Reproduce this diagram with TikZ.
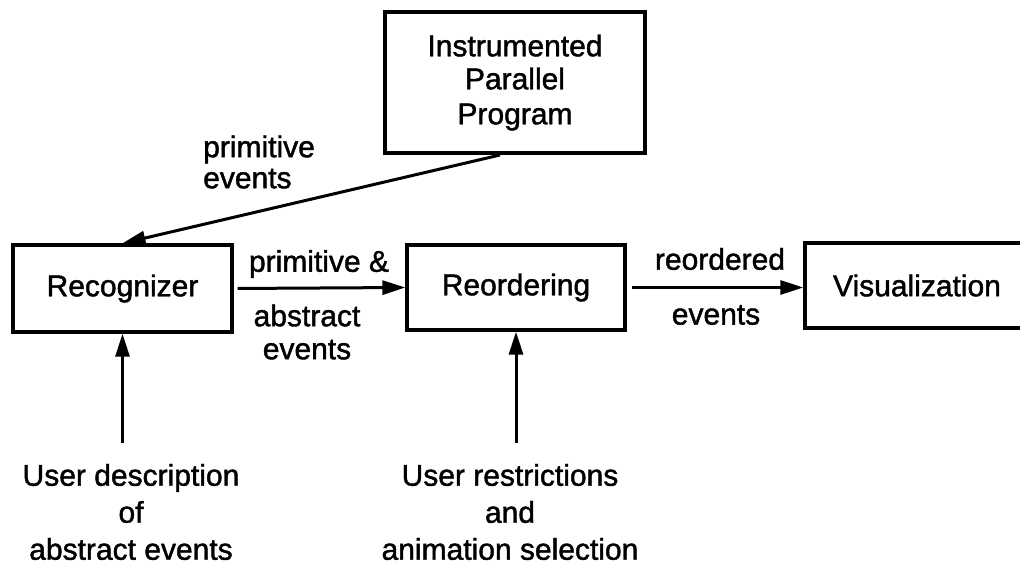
\documentclass[tikz,border=0pt]{standalone}
\usepackage{fontspec}
\setmainfont{Liberation Sans}[FakeBold=1.4]
\usetikzlibrary{arrows.meta,calc}

\tikzset{
  stage/.style={draw=black, line width=3.4pt, inner sep=0pt, align=center,
                font=\fontsize{30}{35}\selectfont},
  lbl/.style={inner sep=0pt, align=center, font=\fontsize{30}{37}\selectfont},
  flow/.style={line width=3pt, -{Triangle[length=23pt,width=14pt]}},
}

\begin{document}
\begin{tikzpicture}[x=1pt, y=-1pt]
  \useasboundingbox (0,0) rectangle (1020,567);
  \clip (0,0) rectangle (1020,567);
  \fill[white] (0,0) rectangle (1020,567);

  % processing stages
  \node[stage, minimum width=260pt, minimum height=141pt] (ipp) at (515,82.5)
    {Instrumented\\[-2pt]Parallel\\Program};
  \node[stage, minimum width=219pt, minimum height=87pt] (rec) at (122.5,288.5) {Recognizer};
  \node[stage, minimum width=218pt, minimum height=85pt] (reo) at (516,287.5) {Reordering};
  \node[stage, minimum width=224pt, minimum height=85pt] (vis) at (917,285.5) {Visualization};

  % connector labels
  \node[lbl, anchor=west, align=left] (lprim) at (203,162) {primitive\\[-6pt]events};
  \node[lbl] (lpa1) at (319,264) {primitive \&};
  \node[lbl] (lpa2) at (307,332) {abstract\\[-4pt]events};
  \node[lbl] (lro1) at (720,259) {reordered};
  \node[lbl] (lro2) at (716,315) {events};

  % user inputs
  \node[lbl] (udesc) at (131,512) {User description\\of\\abstract events};
  \node[lbl] (urest) at (510,512) {User restrictions\\and\\animation selection};

  % connector end points
  \coordinate (ippout) at (500,155);
  \coordinate (descin) at (122.5,443);
  \coordinate (restin) at (516,443);

  % connectors
  \draw[flow] (ippout) -- (rec.north);
  \draw[flow, shorten <=4pt] (rec.east) -- (reo.west);
  \draw[flow, shorten <=5pt] (reo.east) -- (reo.east -| vis.west);
  \draw[flow] (descin) -- (rec.south);
  \draw[flow] (restin) -- (reo.south);
\end{tikzpicture}
\end{document}
